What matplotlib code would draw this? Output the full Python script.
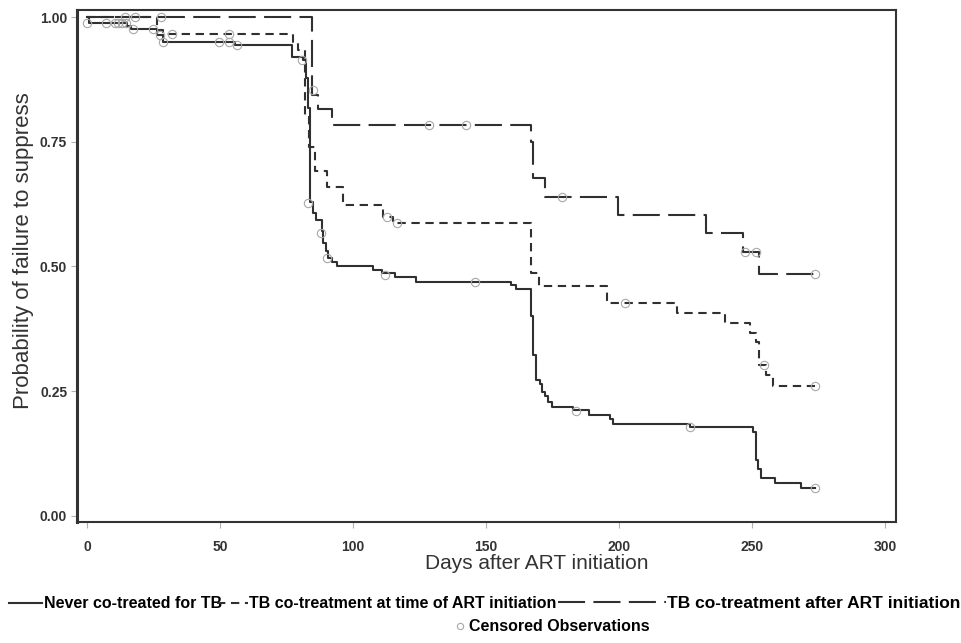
import matplotlib
matplotlib.use("Agg")
import matplotlib.pyplot as plt
from matplotlib.lines import Line2D

plt.rcParams['font.family'] = ['Liberation Sans', 'DejaVu Sans']

# Kaplan-Meier steps: day of each step and probability after it
never_days = [0, 0.5, 14.8, 16.5, 26.1, 28.3, 55.5, 76.8, 81.2, 82.2, 83.1, 83.8,
              85.0, 86.0, 88.1, 88.7, 89.7, 90.6, 91.9, 93.8, 107.5, 110.7, 115.7,
              123.6, 159.5, 161.4, 167.0, 167.7, 168.7, 170.2, 171.1, 172.1, 173.3,
              174.6, 182.7, 188.7, 196.5, 197.7, 226.6, 250.4, 251.4, 252.3, 253.5,
              258.5, 268.6, 273.6]
never_surv = [1.0, 0.988, 0.982, 0.976, 0.965, 0.950, 0.945, 0.921, 0.913, 0.878, 0.818, 0.630,
              0.607, 0.593, 0.570, 0.547, 0.530, 0.516, 0.508, 0.500, 0.493, 0.486, 0.478,
              0.468, 0.463, 0.454, 0.400, 0.322, 0.272, 0.265, 0.249, 0.239, 0.228,
              0.217, 0.212, 0.202, 0.193, 0.184, 0.177, 0.168, 0.111, 0.093, 0.075,
              0.065, 0.056, 0.056]

at_days = [0, 26.1, 28.5, 77.4, 79.2, 82.0, 83.5, 85.5, 90.0, 96.2, 111.3, 115.0,
           167.0, 170.0, 195.6, 221.6, 239.7, 249.1, 251.6, 252.6, 255.4, 257.7, 273.6]
at_surv = [1.0, 0.975, 0.966, 0.949, 0.935, 0.800, 0.740, 0.692, 0.660, 0.623, 0.600, 0.587,
           0.486, 0.461, 0.426, 0.406, 0.386, 0.366, 0.349, 0.302, 0.282, 0.261, 0.261]

after_days = [0, 84.4, 86.7, 92.0, 167.0, 167.7, 172.3, 199.6, 232.8, 246.6, 252.6, 273.6]
after_surv = [1.0, 0.844, 0.816, 0.783, 0.750, 0.677, 0.640, 0.603, 0.567, 0.528, 0.485, 0.485]

# censored observations
never_cens_days = [0, 7.0, 10.4, 11.7, 12.9, 14.5, 17.0, 24.8, 27.3, 28.5, 49.6, 53.4, 56.2,
                   80.6, 83.0, 88.0, 90.2, 112.0, 145.8, 183.7, 226.6, 273.6]
never_cens_surv = [0.988, 0.988, 0.988, 0.988, 0.988, 0.988, 0.976, 0.976, 0.965, 0.950, 0.950,
                   0.950, 0.945, 0.913, 0.627, 0.567, 0.516, 0.483, 0.468, 0.210, 0.177, 0.056]
at_cens_days = [31.7, 53.4, 112.6, 116.5, 202.4, 254.4, 273.6]
at_cens_surv = [0.966, 0.966, 0.600, 0.587, 0.426, 0.302, 0.261]
after_cens_days = [14.2, 17.9, 27.7, 85.0, 128.5, 142.6, 178.7, 247.2, 251.4, 273.6]
after_cens_surv = [1.0, 1.0, 1.0, 0.853, 0.783, 0.783, 0.640, 0.528, 0.528, 0.485]

labels = ['Never co-treated for TB', 'TB co-treatment at time of ART initiation',
          'TB co-treatment after ART initiation']
xticks = [0, 50, 100, 150, 200, 250, 300]
yticks = [0.0, 0.25, 0.5, 0.75, 1.0]

line_col = '#303030'
cens_col = '#a8a8a8'

fig = plt.figure(figsize=(9.62, 6.43), dpi=100)
ax = fig.add_axes([0.080, 0.188, 0.851, 0.797])

short_dash = (4, 2.7)
long_dash = (13, 4)

ax.step(never_days, never_surv, where='post', color=line_col, lw=1.5, zorder=3)
ax.step(at_days, at_surv, where='post', color=line_col, lw=1.5, dashes=short_dash, zorder=3)
ax.step(after_days, after_surv, where='post', color=line_col, lw=1.5, dashes=long_dash, zorder=3)

for d, s in [(never_cens_days, never_cens_surv), (at_cens_days, at_cens_surv),
             (after_cens_days, after_cens_surv)]:
    ax.plot(d, s, 'o', ms=6, mfc='none', mec=cens_col, mew=0.8, zorder=4)

ax.set_xlim(-3.9, 304)
ax.set_ylim(-0.013, 1.015)
ax.set_xticks(xticks)
ax.set_yticks(yticks)
ax.set_xticklabels([str(t) for t in xticks], fontweight='bold', fontsize=10, color='#333333')
ax.set_yticklabels(['%.2f' % t for t in yticks], fontweight='bold', fontsize=10, color='#333333')
ax.tick_params(axis='x', length=4, width=0.8, color='#b0b0b0', pad=9)
ax.tick_params(axis='y', length=4, width=0.8, color='#b0b0b0', pad=3)

for side in ['top', 'right', 'bottom']:
    ax.spines[side].set_linewidth(1.5)
    ax.spines[side].set_color('#333333')
ax.spines['left'].set_linewidth(2.2)
ax.spines['left'].set_color('#333333')

ax.set_xlabel('Days after ART initiation', fontsize=15, color='#333333', va='top')
ax.xaxis.set_label_coords(0.562, -0.062)
ax.set_ylabel('Probability of failure to suppress', fontsize=16, color='#333333')
ax.yaxis.set_label_coords(-0.052, 0.53)

# legend, built piece by piece so each handle can have its own length
styles = [dict(), dict(dashes=short_dash), dict(dashes=long_dash)]
anchors = [0.009, 0.226, 0.580]
hlens = [2.1, 1.9, 6.2]
sizes = [11.5, 11.5, 12.5]
for lab, st, xa, hl, fs in zip(labels, styles, anchors, hlens, sizes):
    h = Line2D([], [], color=line_col, lw=1.5, **st)
    fig.legend([h], [lab], loc='center left', bbox_to_anchor=(xa, 0.061),
               frameon=False, borderpad=0, borderaxespad=0, handletextpad=0.1,
               handlelength=hl, prop=dict(weight='bold', size=fs))
hc = Line2D([], [], ls='none', marker='o', ms=4.5, mfc='none', mec=cens_col, mew=0.8)
fig.legend([hc], ['Censored Observations'], loc='center left', bbox_to_anchor=(0.473, 0.025),
           frameon=False, borderpad=0, borderaxespad=0, handletextpad=0.3, handlelength=0.6,
           prop=dict(weight='bold', size=11.5))

fig.savefig('out.png', dpi=100)
